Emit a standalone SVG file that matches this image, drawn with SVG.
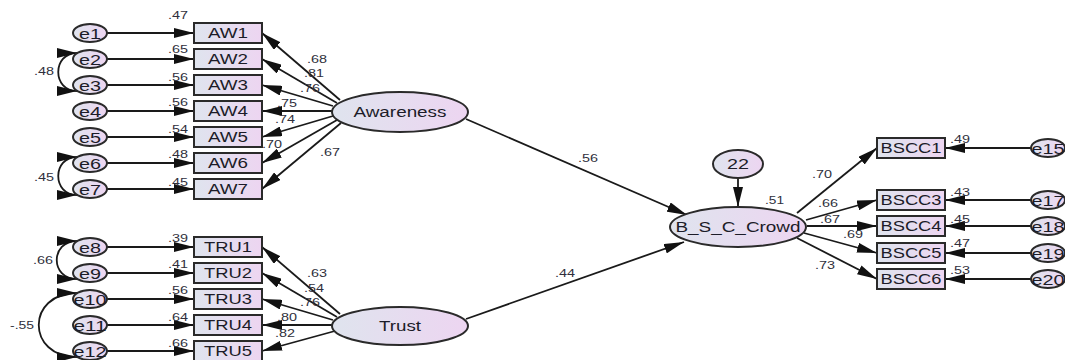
<svg xmlns="http://www.w3.org/2000/svg" width="1065" height="360" viewBox="0 0 1065 360">
  <defs>
    <linearGradient id="fillGrad" x1="0" y1="0" x2="1" y2="0">
      <stop offset="0" stop-color="#dfe4ee"/>
      <stop offset="1" stop-color="#edd5f1"/>
    </linearGradient>
    <marker id="ah" markerUnits="userSpaceOnUse" markerWidth="21" markerHeight="10" refX="20" refY="5" orient="auto-start-reverse">
      <path d="M0,0 L20,5 L0,10 Z" fill="#111"/>
    </marker>
  </defs>
  <style>
    .shape { fill: url(#fillGrad); stroke: #2a2a2a; stroke-width: 2; }
    .lbl { font-family: "Liberation Sans", Arial, sans-serif; font-size: 14px; fill: #1c1c28; text-anchor: middle; }
    .elbl { font-size: 15px; }
    .coef { font-family: "Liberation Sans", Arial, sans-serif; font-size: 11.5px; fill: #30303c; }
    .conn line, .conn path { stroke: #1a1a1a; stroke-width: 1.8; fill: none; marker-end: url(#ah); }
    .conn path.cov { marker-start: url(#ah); }
  </style>
  <rect width="1065" height="360" fill="#ffffff"/>

  <!-- connectors -->
  <g id="connectors" class="conn">
    <!-- error terms to Awareness indicators -->
    <line x1="107" y1="33" x2="194" y2="33"/>
    <line x1="107" y1="59" x2="194" y2="59"/>
    <line x1="107" y1="85" x2="194" y2="85"/>
    <line x1="107" y1="111" x2="194" y2="111"/>
    <line x1="107" y1="137" x2="194" y2="137"/>
    <line x1="107" y1="163" x2="194" y2="163"/>
    <line x1="107" y1="189" x2="194" y2="189"/>
    <!-- Awareness loadings -->
    <line x1="340" y1="100" x2="262" y2="33"/>
    <line x1="337" y1="103" x2="262" y2="59"/>
    <line x1="333" y1="106" x2="262" y2="85"/>
    <line x1="332" y1="111" x2="262" y2="111"/>
    <line x1="333" y1="116" x2="262" y2="137"/>
    <line x1="337" y1="120" x2="262" y2="163"/>
    <line x1="341" y1="123" x2="262" y2="189"/>
    <!-- error terms to Trust indicators -->
    <line x1="107" y1="247" x2="194" y2="247"/>
    <line x1="107" y1="273" x2="194" y2="273"/>
    <line x1="107" y1="299" x2="194" y2="299"/>
    <line x1="107" y1="325" x2="194" y2="325"/>
    <line x1="107" y1="351" x2="194" y2="351"/>
    <!-- Trust loadings -->
    <line x1="340" y1="314" x2="262" y2="247"/>
    <line x1="337" y1="317" x2="262" y2="273"/>
    <line x1="333" y1="320" x2="262" y2="299"/>
    <line x1="332" y1="325" x2="262" y2="325"/>
    <line x1="335" y1="331" x2="262" y2="351"/>
    <!-- covariances -->
    <path class="cov" d="M77,53 C52,53 52,91 77,91"/>
    <path class="cov" d="M77,157 C52,157 52,195 77,195"/>
    <path class="cov" d="M77,241 C50,241 50,279 77,279"/>
    <path class="cov" d="M77,293 C26,293 26,357 77,357"/>
    <!-- structural paths -->
    <line x1="466" y1="119" x2="687" y2="215"/>
    <line x1="466" y1="319" x2="684" y2="242"/>
    <line x1="738" y1="178" x2="738" y2="207"/>
    <!-- B_S_C_Crowd loadings -->
    <line x1="797" y1="213" x2="877" y2="148"/>
    <line x1="806" y1="220" x2="877" y2="200"/>
    <line x1="807" y1="226" x2="877" y2="226"/>
    <line x1="804" y1="233" x2="877" y2="253"/>
    <line x1="797" y1="238" x2="877" y2="279"/>
    <!-- error terms to B_S_C_Crowd indicators -->
    <line x1="1031" y1="148" x2="945" y2="148"/>
    <line x1="1031" y1="200" x2="945" y2="200"/>
    <line x1="1031" y1="226" x2="945" y2="226"/>
    <line x1="1031" y1="253" x2="945" y2="253"/>
    <line x1="1031" y1="279" x2="945" y2="279"/>
  </g>

  <!-- error terms, Awareness block -->
  <g id="e1"><ellipse class="shape" cx="90" cy="33" rx="17" ry="9"/><text class="lbl elbl" x="90" y="38.5" textLength="22" lengthAdjust="spacingAndGlyphs">e1</text></g>
  <g id="e2"><ellipse class="shape" cx="90" cy="59" rx="17" ry="9"/><text class="lbl elbl" x="90" y="64.5" textLength="22" lengthAdjust="spacingAndGlyphs">e2</text></g>
  <g id="e3"><ellipse class="shape" cx="90" cy="85" rx="17" ry="9"/><text class="lbl elbl" x="90" y="90.5" textLength="22" lengthAdjust="spacingAndGlyphs">e3</text></g>
  <g id="e4"><ellipse class="shape" cx="90" cy="111" rx="17" ry="9"/><text class="lbl elbl" x="90" y="116.5" textLength="22" lengthAdjust="spacingAndGlyphs">e4</text></g>
  <g id="e5"><ellipse class="shape" cx="90" cy="137" rx="17" ry="9"/><text class="lbl elbl" x="90" y="142.5" textLength="22" lengthAdjust="spacingAndGlyphs">e5</text></g>
  <g id="e6"><ellipse class="shape" cx="90" cy="163" rx="17" ry="9"/><text class="lbl elbl" x="90" y="168.5" textLength="22" lengthAdjust="spacingAndGlyphs">e6</text></g>
  <g id="e7"><ellipse class="shape" cx="90" cy="189" rx="17" ry="9"/><text class="lbl elbl" x="90" y="194.5" textLength="22" lengthAdjust="spacingAndGlyphs">e7</text></g>

  <!-- Awareness indicators -->
  <g id="AW1"><rect class="shape" x="194" y="23" width="68" height="20"/><text class="lbl" x="228" y="38" textLength="40" lengthAdjust="spacingAndGlyphs">AW1</text></g>
  <g id="AW2"><rect class="shape" x="194" y="49" width="68" height="20"/><text class="lbl" x="228" y="64" textLength="40" lengthAdjust="spacingAndGlyphs">AW2</text></g>
  <g id="AW3"><rect class="shape" x="194" y="75" width="68" height="20"/><text class="lbl" x="228" y="90" textLength="40" lengthAdjust="spacingAndGlyphs">AW3</text></g>
  <g id="AW4"><rect class="shape" x="194" y="101" width="68" height="20"/><text class="lbl" x="228" y="116" textLength="40" lengthAdjust="spacingAndGlyphs">AW4</text></g>
  <g id="AW5"><rect class="shape" x="194" y="127" width="68" height="20"/><text class="lbl" x="228" y="142" textLength="40" lengthAdjust="spacingAndGlyphs">AW5</text></g>
  <g id="AW6"><rect class="shape" x="194" y="153" width="68" height="20"/><text class="lbl" x="228" y="168" textLength="40" lengthAdjust="spacingAndGlyphs">AW6</text></g>
  <g id="AW7"><rect class="shape" x="194" y="179" width="68" height="20"/><text class="lbl" x="228" y="194" textLength="40" lengthAdjust="spacingAndGlyphs">AW7</text></g>

  <!-- latent: Awareness -->
  <g id="Awareness"><ellipse class="shape" cx="400" cy="112" rx="68" ry="20"/><text class="lbl" x="400" y="117" textLength="93" lengthAdjust="spacingAndGlyphs">Awareness</text></g>

  <!-- error terms, Trust block -->
  <g id="e8"><ellipse class="shape" cx="90" cy="247" rx="17" ry="9"/><text class="lbl elbl" x="90" y="252.5" textLength="22" lengthAdjust="spacingAndGlyphs">e8</text></g>
  <g id="e9"><ellipse class="shape" cx="90" cy="273" rx="17" ry="9"/><text class="lbl elbl" x="90" y="278.5" textLength="22" lengthAdjust="spacingAndGlyphs">e9</text></g>
  <g id="e10"><ellipse class="shape" cx="90" cy="299" rx="17" ry="9"/><text class="lbl elbl" x="90" y="304.5" textLength="33" lengthAdjust="spacingAndGlyphs">e10</text></g>
  <g id="e11"><ellipse class="shape" cx="90" cy="325" rx="17" ry="9"/><text class="lbl elbl" x="90" y="330.5" textLength="33" lengthAdjust="spacingAndGlyphs">e11</text></g>
  <g id="e12"><ellipse class="shape" cx="90" cy="351" rx="17" ry="9"/><text class="lbl elbl" x="90" y="356.5" textLength="33" lengthAdjust="spacingAndGlyphs">e12</text></g>

  <!-- Trust indicators -->
  <g id="TRU1"><rect class="shape" x="194" y="237" width="68" height="20"/><text class="lbl" x="228" y="252" textLength="48" lengthAdjust="spacingAndGlyphs">TRU1</text></g>
  <g id="TRU2"><rect class="shape" x="194" y="263" width="68" height="20"/><text class="lbl" x="228" y="278" textLength="48" lengthAdjust="spacingAndGlyphs">TRU2</text></g>
  <g id="TRU3"><rect class="shape" x="194" y="289" width="68" height="20"/><text class="lbl" x="228" y="304" textLength="48" lengthAdjust="spacingAndGlyphs">TRU3</text></g>
  <g id="TRU4"><rect class="shape" x="194" y="315" width="68" height="20"/><text class="lbl" x="228" y="330" textLength="48" lengthAdjust="spacingAndGlyphs">TRU4</text></g>
  <g id="TRU5"><rect class="shape" x="194" y="341" width="68" height="20"/><text class="lbl" x="228" y="356" textLength="48" lengthAdjust="spacingAndGlyphs">TRU5</text></g>

  <!-- latent: Trust -->
  <g id="Trust"><ellipse class="shape" cx="400" cy="326" rx="68" ry="19"/><text class="lbl" x="400" y="331" textLength="42" lengthAdjust="spacingAndGlyphs">Trust</text></g>

  <!-- disturbance and endogenous latent -->
  <g id="d22"><ellipse class="shape" cx="738" cy="164" rx="25" ry="14"/><text class="lbl" x="738" y="169" textLength="22" lengthAdjust="spacingAndGlyphs">22</text></g>
  <g id="B_S_C_Crowd"><ellipse class="shape" cx="738" cy="227" rx="68" ry="20"/><text class="lbl" x="738" y="232" textLength="125" lengthAdjust="spacingAndGlyphs">B_S_C_Crowd</text></g>

  <!-- B_S_C_Crowd indicators -->
  <g id="BSCC1"><rect class="shape" x="877" y="138" width="68" height="20"/><text class="lbl" x="911" y="153" textLength="61" lengthAdjust="spacingAndGlyphs">BSCC1</text></g>
  <g id="BSCC3"><rect class="shape" x="877" y="190" width="68" height="20"/><text class="lbl" x="911" y="205" textLength="61" lengthAdjust="spacingAndGlyphs">BSCC3</text></g>
  <g id="BSCC4"><rect class="shape" x="877" y="216" width="68" height="20"/><text class="lbl" x="911" y="231" textLength="61" lengthAdjust="spacingAndGlyphs">BSCC4</text></g>
  <g id="BSCC5"><rect class="shape" x="877" y="243" width="68" height="20"/><text class="lbl" x="911" y="258" textLength="61" lengthAdjust="spacingAndGlyphs">BSCC5</text></g>
  <g id="BSCC6"><rect class="shape" x="877" y="269" width="68" height="20"/><text class="lbl" x="911" y="284" textLength="61" lengthAdjust="spacingAndGlyphs">BSCC6</text></g>

  <!-- error terms, right block -->
  <g id="e15"><ellipse class="shape" cx="1048" cy="148" rx="17" ry="9"/><text class="lbl elbl" x="1048" y="153.5" textLength="33" lengthAdjust="spacingAndGlyphs">e15</text></g>
  <g id="e17"><ellipse class="shape" cx="1048" cy="200" rx="17" ry="9"/><text class="lbl elbl" x="1048" y="205.5" textLength="33" lengthAdjust="spacingAndGlyphs">e17</text></g>
  <g id="e18"><ellipse class="shape" cx="1048" cy="226" rx="17" ry="9"/><text class="lbl elbl" x="1048" y="231.5" textLength="33" lengthAdjust="spacingAndGlyphs">e18</text></g>
  <g id="e19"><ellipse class="shape" cx="1048" cy="253" rx="17" ry="9"/><text class="lbl elbl" x="1048" y="258.5" textLength="33" lengthAdjust="spacingAndGlyphs">e19</text></g>
  <g id="e20"><ellipse class="shape" cx="1048" cy="279" rx="17" ry="9"/><text class="lbl elbl" x="1048" y="284.5" textLength="33" lengthAdjust="spacingAndGlyphs">e20</text></g>

  <!-- estimates -->
  <g id="estimates" class="coef">
    <text x="168" y="19" textLength="20" lengthAdjust="spacingAndGlyphs">.47</text>
    <text x="168" y="53" textLength="20" lengthAdjust="spacingAndGlyphs">.65</text>
    <text x="168" y="81" textLength="20" lengthAdjust="spacingAndGlyphs">.56</text>
    <text x="168" y="106" textLength="20" lengthAdjust="spacingAndGlyphs">.56</text>
    <text x="168" y="133" textLength="20" lengthAdjust="spacingAndGlyphs">.54</text>
    <text x="168" y="158" textLength="20" lengthAdjust="spacingAndGlyphs">.48</text>
    <text x="168" y="186" textLength="20" lengthAdjust="spacingAndGlyphs">.45</text>
    <text x="34" y="75" textLength="20" lengthAdjust="spacingAndGlyphs">.48</text>
    <text x="34" y="181" textLength="20" lengthAdjust="spacingAndGlyphs">.45</text>
    <text x="307" y="63" textLength="20" lengthAdjust="spacingAndGlyphs">.68</text>
    <text x="304" y="77" textLength="20" lengthAdjust="spacingAndGlyphs">.81</text>
    <text x="300" y="92" textLength="20" lengthAdjust="spacingAndGlyphs">.76</text>
    <text x="277" y="107" textLength="20" lengthAdjust="spacingAndGlyphs">.75</text>
    <text x="275" y="123" textLength="20" lengthAdjust="spacingAndGlyphs">.74</text>
    <text x="262" y="148" textLength="20" lengthAdjust="spacingAndGlyphs">.70</text>
    <text x="320" y="156" textLength="20" lengthAdjust="spacingAndGlyphs">.67</text>
    <text x="168" y="242" textLength="20" lengthAdjust="spacingAndGlyphs">.39</text>
    <text x="168" y="268" textLength="20" lengthAdjust="spacingAndGlyphs">.41</text>
    <text x="168" y="294" textLength="20" lengthAdjust="spacingAndGlyphs">.56</text>
    <text x="168" y="321" textLength="20" lengthAdjust="spacingAndGlyphs">.64</text>
    <text x="168" y="347" textLength="20" lengthAdjust="spacingAndGlyphs">.66</text>
    <text x="33" y="264" textLength="20" lengthAdjust="spacingAndGlyphs">.66</text>
    <text x="10" y="329" textLength="24" lengthAdjust="spacingAndGlyphs">-.55</text>
    <text x="307" y="277" textLength="20" lengthAdjust="spacingAndGlyphs">.63</text>
    <text x="304" y="292" textLength="20" lengthAdjust="spacingAndGlyphs">.54</text>
    <text x="300" y="306" textLength="20" lengthAdjust="spacingAndGlyphs">.76</text>
    <text x="277" y="321" textLength="20" lengthAdjust="spacingAndGlyphs">.80</text>
    <text x="275" y="337" textLength="20" lengthAdjust="spacingAndGlyphs">.82</text>
    <text x="578" y="162" textLength="20" lengthAdjust="spacingAndGlyphs">.56</text>
    <text x="555" y="277" textLength="20" lengthAdjust="spacingAndGlyphs">.44</text>
    <text x="765" y="204" textLength="19" lengthAdjust="spacingAndGlyphs">.51</text>
    <text x="812" y="178" textLength="20" lengthAdjust="spacingAndGlyphs">.70</text>
    <text x="818" y="207" textLength="20" lengthAdjust="spacingAndGlyphs">.66</text>
    <text x="820" y="223" textLength="20" lengthAdjust="spacingAndGlyphs">.67</text>
    <text x="843" y="238" textLength="20" lengthAdjust="spacingAndGlyphs">.69</text>
    <text x="815" y="269" textLength="20" lengthAdjust="spacingAndGlyphs">.73</text>
    <text x="950" y="143" textLength="20" lengthAdjust="spacingAndGlyphs">.49</text>
    <text x="950" y="196" textLength="20" lengthAdjust="spacingAndGlyphs">.43</text>
    <text x="950" y="223" textLength="20" lengthAdjust="spacingAndGlyphs">.45</text>
    <text x="950" y="247" textLength="20" lengthAdjust="spacingAndGlyphs">.47</text>
    <text x="950" y="274" textLength="20" lengthAdjust="spacingAndGlyphs">.53</text>
  </g>
</svg>
